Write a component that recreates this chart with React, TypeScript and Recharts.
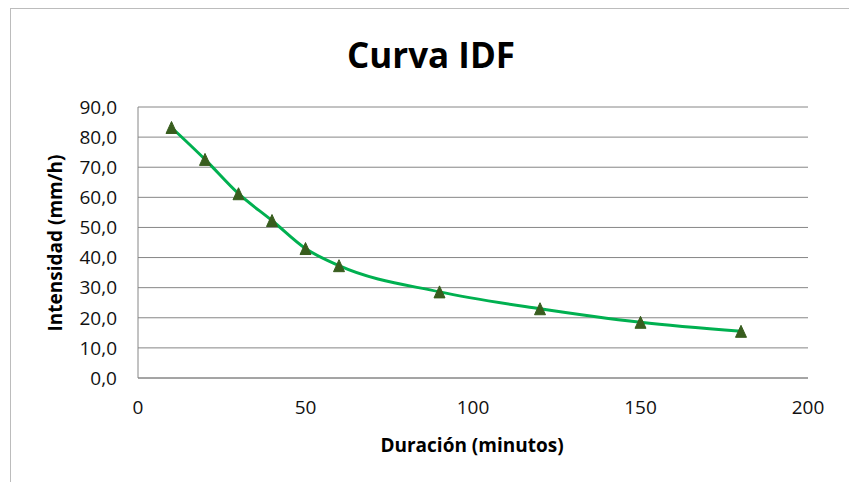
import React from 'react';
import { CartesianGrid, Line, LineChart, XAxis, YAxis } from 'recharts';

const durations = [10, 20, 30, 40, 50, 60, 90, 120, 150, 180];
const intensities = [83.2, 72.6, 61.2, 52.3, 43.0, 37.3, 28.6, 23.0, 18.5, 15.5];
const xTicks = [0, 50, 100, 150, 200];
const yTicks = [0, 10, 20, 30, 40, 50, 60, 70, 80, 90];

const chartData = durations.map((d, i) => ({ duracion: d, intensidad: intensities[i] }));

const font = "'Open Sans', 'Noto Sans', sans-serif";

function TriangleDot(props: any) {
  const { cx, cy } = props;
  if (cx == null || cy == null) return null;
  const w = 11;
  const h = 12;
  return (
    <path
      d={`M${cx},${cy - h / 2} L${cx + w / 2},${cy + h / 2} L${cx - w / 2},${cy + h / 2} Z`}
      fill="#385d1e"
      stroke="#385d1e"
      strokeWidth={1}
    />
  );
}

export default function App() {
  return (
    <div style={{ position: 'absolute', left: 0, top: 0, width: 849, height: 482, background: '#fff', overflow: 'hidden' }}>
      <div
        style={{
          position: 'absolute',
          left: 10,
          top: 8,
          width: 900,
          height: 600,
          borderLeft: '1px solid #bcbcbc',
          borderTop: '1px solid #bcbcbc',
        }}
      />
      <div style={{ position: 'absolute', left: 0, top: 0 }}>
        <LineChart
          width={849}
          height={482}
          data={chartData}
          margin={{ top: 107, right: 41, bottom: 44, left: 58 }}
        >
          <CartesianGrid vertical={false} stroke="#868686" strokeWidth={1} />
          <XAxis
            dataKey="duracion"
            type="number"
            domain={[0, 200]}
            ticks={xTicks}
            height={60}
            tickSize={0}
            tickMargin={23}
            axisLine={{ stroke: '#868686' }}
            tickLine={false}
            tick={{ fill: '#111', fontSize: 19, fontFamily: font }}
          />
          <YAxis
            type="number"
            domain={[0, 90]}
            ticks={yTicks}
            width={80}
            tickSize={0}
            tickMargin={21}
            axisLine={{ stroke: '#868686' }}
            tickLine={false}
            tick={{ fill: '#111', fontSize: 19, fontFamily: font }}
            tickFormatter={(v: number) => v.toFixed(1).replace('.', ',')}
          />
          <Line
            type="monotone"
            dataKey="intensidad"
            stroke="#00b050"
            strokeWidth={3}
            dot={<TriangleDot />}
            activeDot={false}
            isAnimationActive={false}
          />
        </LineChart>
      </div>
      <svg
        width={849}
        height={482}
        style={{ position: 'absolute', left: 0, top: 0, pointerEvents: 'none' }}
      >
        <text x={431} y={68} textAnchor="middle" fontFamily={font} fontWeight="bold" fontSize={35} fill="#000">
          Curva IDF
        </text>
        <text x={472} y={452} textAnchor="middle" fontFamily={font} fontWeight="bold" fontSize={19} fill="#000">
          Duración (minutos)
        </text>
        <text
          x={62}
          y={243}
          textAnchor="middle"
          fontFamily={font}
          fontWeight="bold"
          fontSize={19}
          fill="#000"
          transform="rotate(-90, 62, 243)"
        >
          Intensidad (mm/h)
        </text>
      </svg>
    </div>
  );
}
